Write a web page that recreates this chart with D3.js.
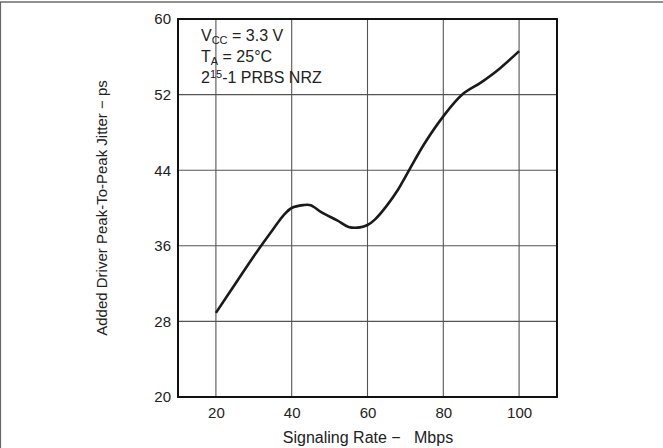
<!DOCTYPE html>
<html>
<head>
<meta charset="utf-8">
<script src="https://cdn.jsdelivr.net/npm/d3@7"></script>
<style>
  body { margin: 0; background: #fff; }
  svg { display: block; font-family: "Liberation Sans", Arial, sans-serif; }
</style>
</head>
<body>
<svg id="chart" width="663" height="448"></svg>
<script>
// signaling rate (Mbps) vs added jitter (ps)
const rate   = [20, 25, 30, 35, 38, 40, 43, 45, 48, 52, 55, 58, 60, 62, 65, 68, 70, 75, 80, 85, 90, 95, 100];
const jitter = [28.9, 31.9, 34.9, 37.7, 39.3, 40.0, 40.3, 40.3, 39.5, 38.7, 38.0, 37.95, 38.2, 38.8, 40.2, 41.9, 43.3, 46.8, 49.7, 52.0, 53.3, 54.8, 56.6];

const xTicks = [20, 40, 60, 80, 100];
const yTicks = [20, 28, 36, 44, 52, 60];

const svg = d3.select('#chart');
const plot = {left: 178, top: 19, right: 557, bottom: 397};

const x = d3.scaleLinear().domain([10, 110]).range([plot.left, plot.right]);
const y = d3.scaleLinear().domain([20, 60]).range([plot.bottom, plot.top]);

// outer page frame (only top + left visible in reference)
svg.append('line').attr('x1', 0).attr('x2', 663).attr('y1', 2).attr('y2', 2)
  .attr('stroke', '#222').attr('stroke-width', 1.2);
svg.append('line').attr('x1', 0.5).attr('x2', 0.5).attr('y1', 2).attr('y2', 448)
  .attr('stroke', '#666').attr('stroke-width', 1.2);

// grid
svg.append('g').selectAll('line').data(xTicks).join('line')
  .attr('x1', d => x(d)).attr('x2', d => x(d))
  .attr('y1', plot.top).attr('y2', plot.bottom)
  .attr('stroke', '#555').attr('stroke-width', 1.1);
svg.append('g').selectAll('line').data(yTicks.slice(1, -1)).join('line')
  .attr('y1', d => y(d)).attr('y2', d => y(d))
  .attr('x1', plot.left).attr('x2', plot.right)
  .attr('stroke', '#555').attr('stroke-width', 1.1);

// axes labels (tick text only, frame drawn separately)
const xAxis = svg.append('g')
  .attr('transform', `translate(0,${plot.bottom})`)
  .call(d3.axisBottom(x).tickValues(xTicks).tickSize(0).tickPadding(10));
const yAxis = svg.append('g')
  .attr('transform', `translate(${plot.left},0)`)
  .call(d3.axisLeft(y).tickValues(yTicks).tickSize(0).tickPadding(7));
[xAxis, yAxis].forEach(a => {
  a.select('.domain').remove();
  a.selectAll('text').attr('font-size', 15).attr('fill', '#222')
    .attr('font-family', '"Liberation Sans", Arial, sans-serif');
});

// plot frame
svg.append('rect')
  .attr('x', plot.left).attr('y', plot.top)
  .attr('width', plot.right - plot.left).attr('height', plot.bottom - plot.top)
  .attr('fill', 'none').attr('stroke', '#111').attr('stroke-width', 2);

// curve
const line = d3.line()
  .x((d, i) => x(rate[i]))
  .y(d => y(d))
  .curve(d3.curveCatmullRom.alpha(0.5));
svg.append('path').datum(jitter)
  .attr('d', line)
  .attr('fill', 'none').attr('stroke', '#1a1a1a').attr('stroke-width', 2.6)
  .attr('stroke-linejoin', 'round');

// axis titles
svg.append('text').attr('x', 368).attr('y', 443).attr('text-anchor', 'middle')
  .attr('font-size', 16).attr('fill', '#222').attr('xml:space', 'preserve')
  .text('Signaling Rate \u2212   Mbps');
svg.append('text')
  .attr('transform', `translate(107,${(plot.top + plot.bottom) / 2}) rotate(-90)`)
  .attr('text-anchor', 'middle').attr('font-size', 15).attr('fill', '#222')
  .text('Added Driver Peak-To-Peak Jitter \u2212 ps');

// conditions note
const note = svg.append('g').attr('font-size', 16).attr('fill', '#222');
const t1 = note.append('text').attr('x', 201).attr('y', 41);
t1.append('tspan').text('V');
t1.append('tspan').attr('font-size', 11).attr('dy', 3).text('CC');
t1.append('tspan').attr('dy', -3).text(' = 3.3 V');
const t2 = note.append('text').attr('x', 201).attr('y', 62);
t2.append('tspan').text('T');
t2.append('tspan').attr('font-size', 11).attr('dy', 3).text('A');
t2.append('tspan').attr('dy', -3).text(' = 25\u00B0C');
const t3 = note.append('text').attr('x', 201).attr('y', 83);
t3.append('tspan').text('2');
t3.append('tspan').attr('font-size', 11).attr('dy', -5).text('15');
t3.append('tspan').attr('dy', 5).text('-1 PRBS NRZ');
</script>
</body>
</html>
